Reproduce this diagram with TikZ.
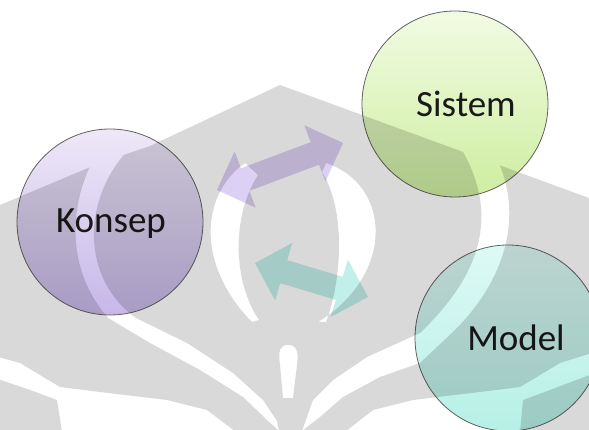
\documentclass[tikz,border=0pt]{standalone}
\usepackage{fontspec}
\setmainfont{Carlito}
\definecolor{konsepTop}{RGB}{238,232,248}
\definecolor{konsepBot}{RGB}{198,183,232}
\definecolor{sistemTop}{RGB}{241,251,227}
\definecolor{sistemBot}{RGB}{206,238,160}
\definecolor{modelTop}{RGB}{222,249,245}
\definecolor{modelBot}{RGB}{182,240,230}
\definecolor{arrPurple}{RGB}{220,208,244}
\definecolor{arrTeal}{RGB}{194,239,233}
\tikzset{
  bubble/.style={circle, minimum size=186pt, inner sep=0pt, draw=black!62, line width=0.8pt},
  lbl/.style={anchor=base, font=\fontsize{37}{40}\selectfont, text=black!90},
}
\begin{document}
\begin{tikzpicture}[x=1pt,y=-1pt]
\useasboundingbox (0,0) rectangle (589,430);
\fill[white] (0,0) rectangle (589,430);

% the three concept bubbles
\node[bubble, top color=konsepTop, bottom color=konsepBot] (konsep) at (110,222) {};
\node[bubble, top color=sistemTop, bottom color=sistemBot] (sistem) at (455,104) {};
\node[bubble, top color=modelTop, bottom color=modelBot] (model) at (508,338) {};

\node[lbl] (tkonsep) at (111,233) {Konsep};
\node[lbl] (tsistem) at (466,117) {Sistem};
\node[lbl] (tmodel) at (516,350) {Model};

% double-headed block arrows
\begin{scope}[shift={(280,166.5)}, rotate=20.5]
  \fill[arrPurple] (-67.25,0) -- (-37.25,-30) -- (-37.25,-12) -- (37.25,-12) -- (37.25,-30)
    -- (67.25,0) -- (37.25,30) -- (37.25,12) -- (-37.25,12) -- (-37.25,30) -- cycle;
\end{scope}
\begin{scope}[shift={(311.5,280)}, rotate=-16.7]
  \fill[arrTeal] (-59,0) -- (-29,-30) -- (-29,-12) -- (29,-12) -- (29,-30)
    -- (59,0) -- (29,30) -- (29,12) -- (-29,12) -- (-29,30) -- cycle;
\end{scope}

% grey emblem laid over the whole diagram, its white parts left as holes
\begin{scope}
  \clip (0,205) -- (100,163) -- (150,146) -- (280,85) -- (589,198) -- (589,430) -- (0,430) -- cycle;
  \fill[black, fill opacity=0.15, even odd rule] (-10,-10) rectangle (600,440)
    % left outer sweep
    (100,148) .. controls (70,195) and (62,265) .. (108,318) -- (150,343) -- (200,370)
      -- (243,397) -- (267,420) -- (279,431) -- (277,421) -- (263,400) -- (233,373)
      -- (187,343) -- (136,318) .. controls (82,280) and (80,200) .. (130,148) -- cycle
    % left inner arc
    (245,163) .. controls (200,195) and (196,265) .. (252,322) -- (259,320)
      .. controls (232,280) and (232,215) .. (258,175) -- cycle
    % right inner arc
    (326,163) .. controls (392,185) and (395,275) .. (318,322) -- (326,322)
      .. controls (342,280) and (346,210) .. (322,172) -- cycle
    % right outer sweep
    (492,150) .. controls (522,200) and (515,270) .. (455,330) -- (420,363) -- (380,377)
      -- (343,397) -- (320,417) -- (302,431) -- (313,400) -- (333,380) -- (367,357)
      -- (420,333) .. controls (470,285) and (505,225) .. (462,150) -- cycle
    % central stem
    (283,398) -- (280,365) .. controls (278,350) and (280,345) .. (288,345)
      .. controls (296,345) and (299,350) .. (297,365) -- (293,398) -- cycle
    % lower left leaves
    (-5,356) -- (20,363) -- (60,387) -- (100,392) -- (167,400) -- (207,410) -- (236,432)
      -- (62,432) -- (57,400) -- (30,390) -- (-5,378) -- cycle
    % lower right leaves
    (595,352) -- (560,363) -- (520,387) -- (480,392) -- (413,400) -- (373,410) -- (345,432)
      -- (520,432) -- (523,400) -- (550,390) -- (595,373) -- cycle;
\end{scope}
\end{tikzpicture}
\end{document}
